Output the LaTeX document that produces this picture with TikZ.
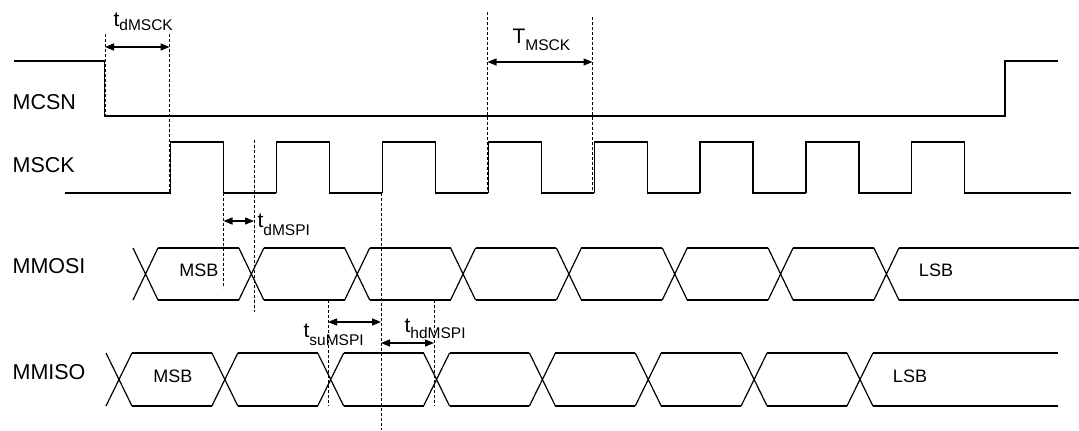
\documentclass[tikz,border=0pt]{standalone}
\usepackage{fontspec}
\setmainfont{Liberation Sans}
\usepackage{tikz}
\usetikzlibrary{arrows.meta}
\newcommand{\tlab}[3][6pt]{{\fontsize{21}{21}\selectfont #2}\raisebox{-#1}{\fontsize{15.5}{15.5}\selectfont #3}}

\begin{document}
\begin{tikzpicture}[x=1pt,y=-1pt,line width=1.2pt,
  guide/.style={line width=0.8pt,dash pattern=on 3pt off 2pt},
  dim/.style={{Triangle[length=9pt,width=7pt]}-{Triangle[length=9pt,width=7pt]},line width=1.3pt},
  signame/.style={anchor=west,inner sep=0pt,font=\fontsize{21.5}{24}\selectfont},
  bit/.style={inner sep=0pt,font=\fontsize{18}{20}\selectfont},
  tim/.style={anchor=base west,inner sep=0pt}]
\useasboundingbox (0,0) rectangle (1079,431);

% signal names
\node[signame] (mcsn) at (12,102.5) {MCSN};
\node[signame] (msck) at (12,165.5) {MSCK};
\node[signame] (mmosi) at (12,266) {MMOSI};
\node[signame] (mmiso) at (12,372) {MMISO};

% MCSN
\draw (14,61) -- (104.5,61) -- (104.5,116) -- (1005,116) -- (1005,61) -- (1058,61);

% MSCK
\draw (65,193) -- (170.5,193);
\foreach \k in {0,...,7} {
  \pgfmathsetmacro{\r}{170.5+105.9*\k}
  \draw (\r,193) -- (\r,142) -- (\r+53,142) -- (\r+53,193) -- (\r+105.9,193);
}
\draw (964.8,193) -- (1071,193);

% MMOSI
\foreach \k in {0,...,7} {
  \pgfmathsetmacro{\c}{145.5+105.85*\k}
  \draw (\c-12.5,248) -- (\c+12.5,300) (\c-12.5,300) -- (\c+12.5,248);
  \ifnum\k<7
    \draw (\c+12.5,248) -- (\c+93.35,248) (\c+12.5,300) -- (\c+93.35,300);
  \fi
}
\draw (899,248) -- (1079,248) (899,300) -- (1079,300);
\node[bit] (mosimsb) at (199,270) {MSB};
\node[bit] (mosilsb) at (936,270) {LSB};

% MMISO
\foreach \k in {0,...,7} {
  \pgfmathsetmacro{\c}{119+105.85*\k}
  \draw (\c-13,353) -- (\c+13,406) (\c-13,406) -- (\c+13,353);
  \ifnum\k<7
    \draw (\c+13,353) -- (\c+92.85,353) (\c+13,406) -- (\c+92.85,406);
  \fi
}
\draw (873,353) -- (1058,353) (873,406) -- (1058,406);
\node[bit] (misomsb) at (173,376) {MSB};
\node[bit] (misolsb) at (910,376) {LSB};

% timing guides
\draw[guide] (105,34) -- (105,116);
\draw[guide] (169.5,34) -- (169.5,193);
\draw[guide] (487.5,12) -- (487.5,193);
\draw[guide] (592.5,17) -- (592.5,193);
\draw[guide] (223.5,193) -- (223.5,288);
\draw[guide] (254,140) -- (254,312);
\draw[guide] (328,300) -- (328,406);
\draw[guide] (381,193) -- (381,430);
\draw[guide] (434,300) -- (434,406);

% timing arrows
\draw[dim] (105,47) -- (169.5,47);
\draw[dim] (487.5,62) -- (592.5,62);
\draw[dim] (223.5,221) -- (254,221);
\draw[dim] (328,322) -- (381,322);
\draw[dim] (381,343) -- (434,343);

\node[tim] (tdmsck) at (113,27) {\tlab[3pt]{t}{dMSCK}};
\node[tim] (tmsck) at (512,43) {\tlab[7pt]{T}{MSCK}};
\node[tim] (tdmspi) at (257,227) {\tlab[8pt]{t}{dMSPI}};
\node[tim] (tsumspi) at (303,337) {\tlab[8pt]{t}{suMSPI}};
\node[tim] (thdmspi) at (404,332) {\tlab[6pt]{t}{hdMSPI}};
\end{tikzpicture}
\end{document}
